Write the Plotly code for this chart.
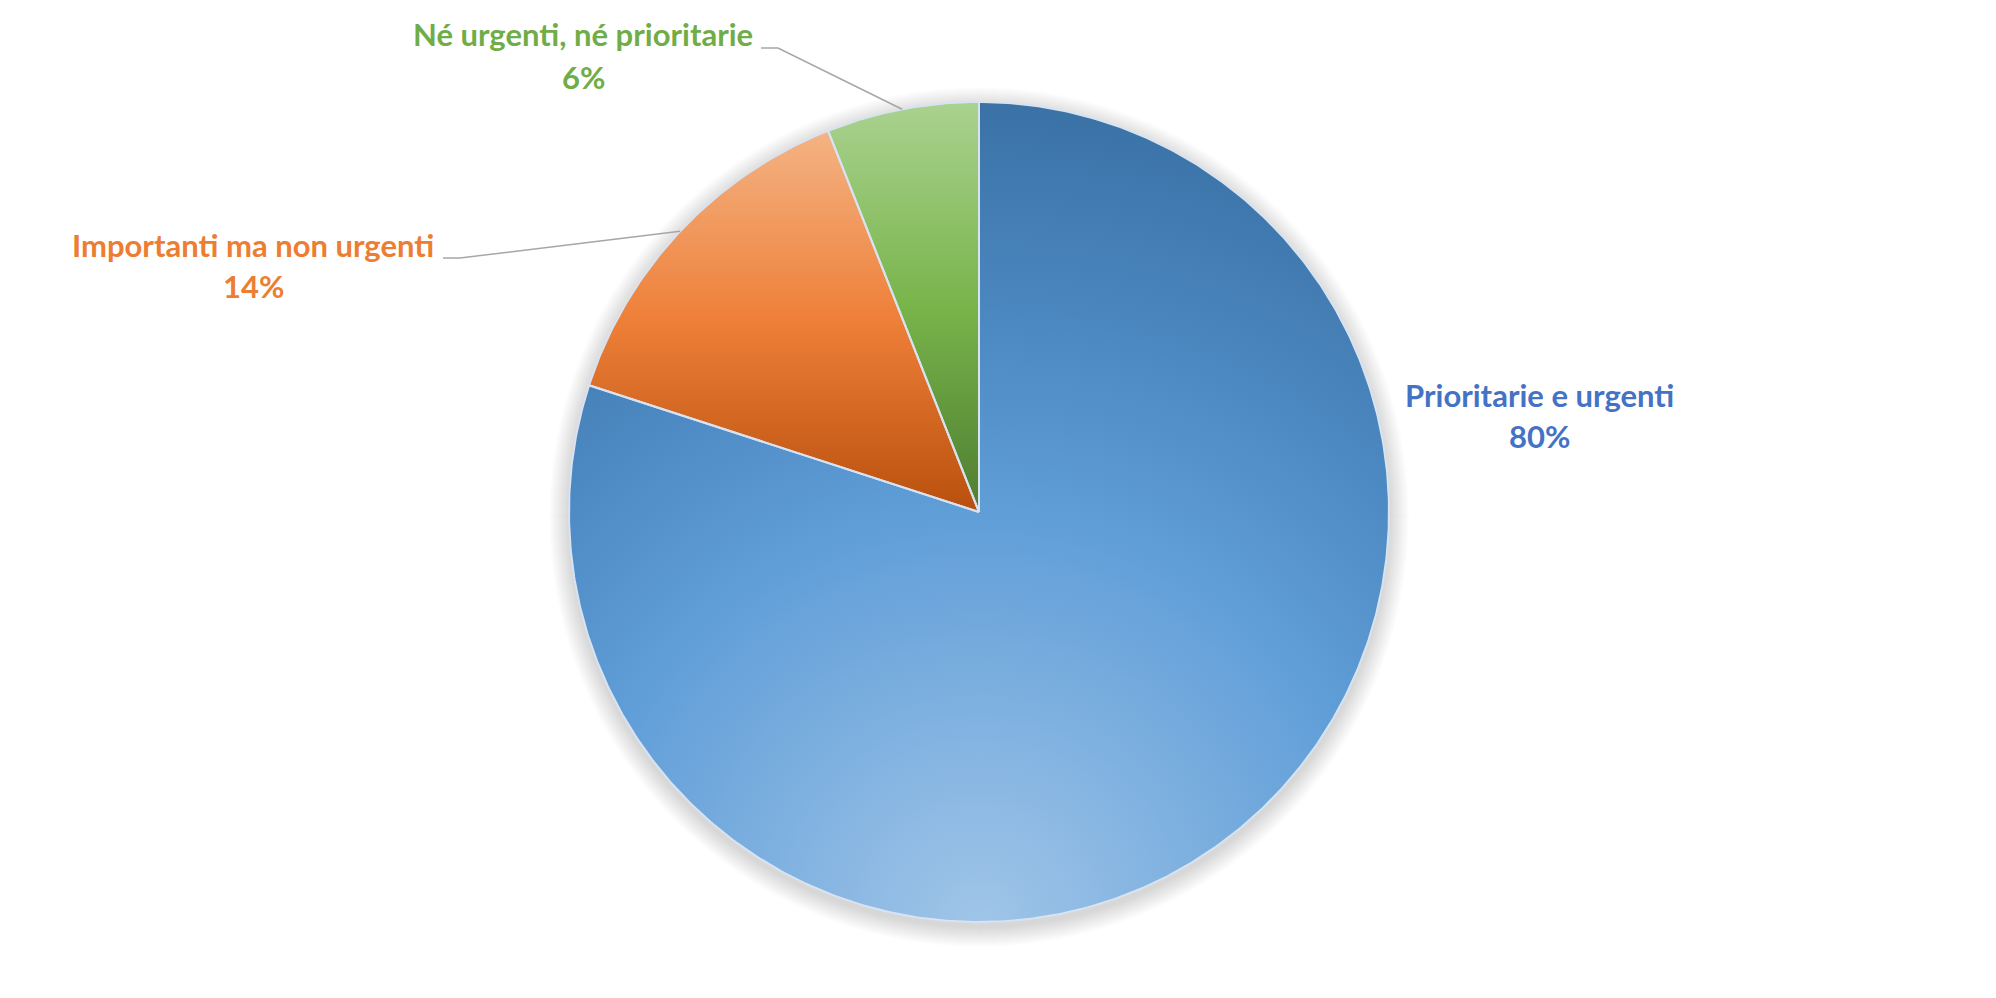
import numpy as np
import plotly.graph_objects as go

# ---- data ----
labels = ["Prioritarie e urgenti", "Importanti ma non urgenti", "Né urgenti, né prioritarie"]
values = [80, 14, 6]
text_colors = ["#4472C4", "#ED7D31", "#70AD47"]

# ---- style ----
# blue: radial (centre at bottom of pie), orange/green: vertical linear
gradients = [
    dict(type="radial", colorscale=[[0, "#a0c5e8"], [0.5, "#609ed8"], [0.72, "#4d89c2"], [1, "#3a72a6"]]),
    dict(type="vertical", colorscale=[[0, "#b8500d"], [0.5, "#ee7f38"], [1, "#f4b384"]]),
    dict(type="vertical", colorscale=[[0, "#4e7d31"], [0.5, "#78b44a"], [1, "#aad290"]]),
]
border_color = "#d8e3f1"

# ---- layout constants (screen pixels) ----
W, H = 1996, 998
OFF = 8                      # page body margin
CX, CY, R = 979, 512, 410    # pie centre / radius
label_pos = [(1539, 395, 436), (253, 245, 286), (583, 34, 77)]
leader_pts = [None, ((443, 258), (460, 258)), ((761, 48), (778, 48))]


def X(sx):
    return sx - OFF


def Y(sy):
    return H - (sy - OFF)


total = sum(values)
cum = np.concatenate([[0], np.cumsum(values)]) / total

fig = go.Figure()

for i, lab in enumerate(labels):
    f0, f1 = cum[i], cum[i + 1]
    n = max(int((f1 - f0) * 720), 8)
    t = np.linspace(f0, f1, n) * 2 * np.pi
    sx = list(CX + R * np.sin(t))
    sy = list(CY - R * np.cos(t))
    fx = [CX] + sx + [CX]
    fy = [CY] + sy + [CY]
    g = gradients[i]
    if g["type"] == "radial":
        # zero-area spikes so that the gradient's bounding box is centred on the
        # bottom of the pie (Office-style path gradient)
        D = 2 * R
        bx, by = CX, CY + R

        def spike(theta, dx, dy):
            k = int(np.argmin(np.abs(t - theta)))
            idx = 1 + k
            fx.insert(idx + 1, sx[k] + dx)
            fy.insert(idx + 1, sy[k] + dy)
            fx.insert(idx + 2, sx[k])
            fy.insert(idx + 2, sy[k])
        # insert from the end backwards so indices stay valid
        spike(1.5 * np.pi, -(CX - R - (bx - D)), 0)
        spike(np.pi, 0, (by + D) - (CY + R))
        spike(0.5 * np.pi, (bx + D) - (CX + R), 0)
    pct = round(values[i] / total * 100)
    fig.add_trace(go.Scatter(
        x=[X(v) for v in fx], y=[Y(v) for v in fy],
        mode="none", fill="toself",
        fillgradient=dict(type=g["type"], colorscale=g["colorscale"]),
        name=lab, hoveron="fills",
        text=f"{lab}: {pct}%", hoverinfo="text",
        showlegend=False,
    ))

# slice borders
for i in range(len(values)):
    f0, f1 = cum[i], cum[i + 1]
    n = max(int((f1 - f0) * 720), 8)
    t = np.linspace(f0, f1, n) * 2 * np.pi
    ox = [CX] + list(CX + R * np.sin(t)) + [CX]
    oy = [CY] + list(CY - R * np.cos(t)) + [CY]
    fig.add_trace(go.Scatter(
        x=[X(v) for v in ox], y=[Y(v) for v in oy], mode="lines",
        line=dict(color=border_color, width=2), hoverinfo="skip", showlegend=False,
    ))

shapes = []
# soft shadow around the pie
for k in range(20, 0, -1):
    rr = R + k
    shapes.append(dict(
        type="circle", xref="x", yref="y", layer="below",
        x0=X(CX - rr), x1=X(CX + rr), y0=Y(CY + 5 + rr), y1=Y(CY + 5 - rr),
        fillcolor="rgba(0,0,0,0.008)", line=dict(width=0),
    ))

annotations = []
font_common = dict(family="Lato", size=31, weight="bold")
for i, lab in enumerate(labels):
    pct = round(values[i] / total * 100)
    x, y1, y2 = label_pos[i]
    annotations.append(dict(text=lab, x=X(x), y=Y(y1), xref="x", yref="y",
                            showarrow=False, xanchor="center", yanchor="middle",
                            font=dict(color=text_colors[i], **font_common)))
    annotations.append(dict(text=f"{pct}%", x=X(x), y=Y(y2), xref="x", yref="y",
                            showarrow=False, xanchor="center", yanchor="middle",
                            font=dict(color=text_colors[i], **font_common)))
    if leader_pts[i] is not None:
        mid = (cum[i] + cum[i + 1]) / 2 * 2 * np.pi
        ex = CX + R * np.sin(mid)
        ey = CY - R * np.cos(mid)
        (ax, ay), (bx2, by2) = leader_pts[i]
        fig.add_trace(go.Scatter(
            x=[X(ax), X(bx2), X(ex)], y=[Y(ay), Y(by2), Y(ey)], mode="lines",
            line=dict(color="#A6A6A6", width=1.5), hoverinfo="skip", showlegend=False,
        ))

fig.update_layout(
    width=W, height=H,
    margin=dict(l=0, r=0, t=0, b=0),
    paper_bgcolor="white", plot_bgcolor="rgba(0,0,0,0)",
    xaxis=dict(range=[0, W], visible=False, fixedrange=True),
    yaxis=dict(range=[0, H], visible=False, fixedrange=True),
    shapes=shapes, annotations=annotations,
    hovermode="closest",
)

fig.write_html("out.html")
